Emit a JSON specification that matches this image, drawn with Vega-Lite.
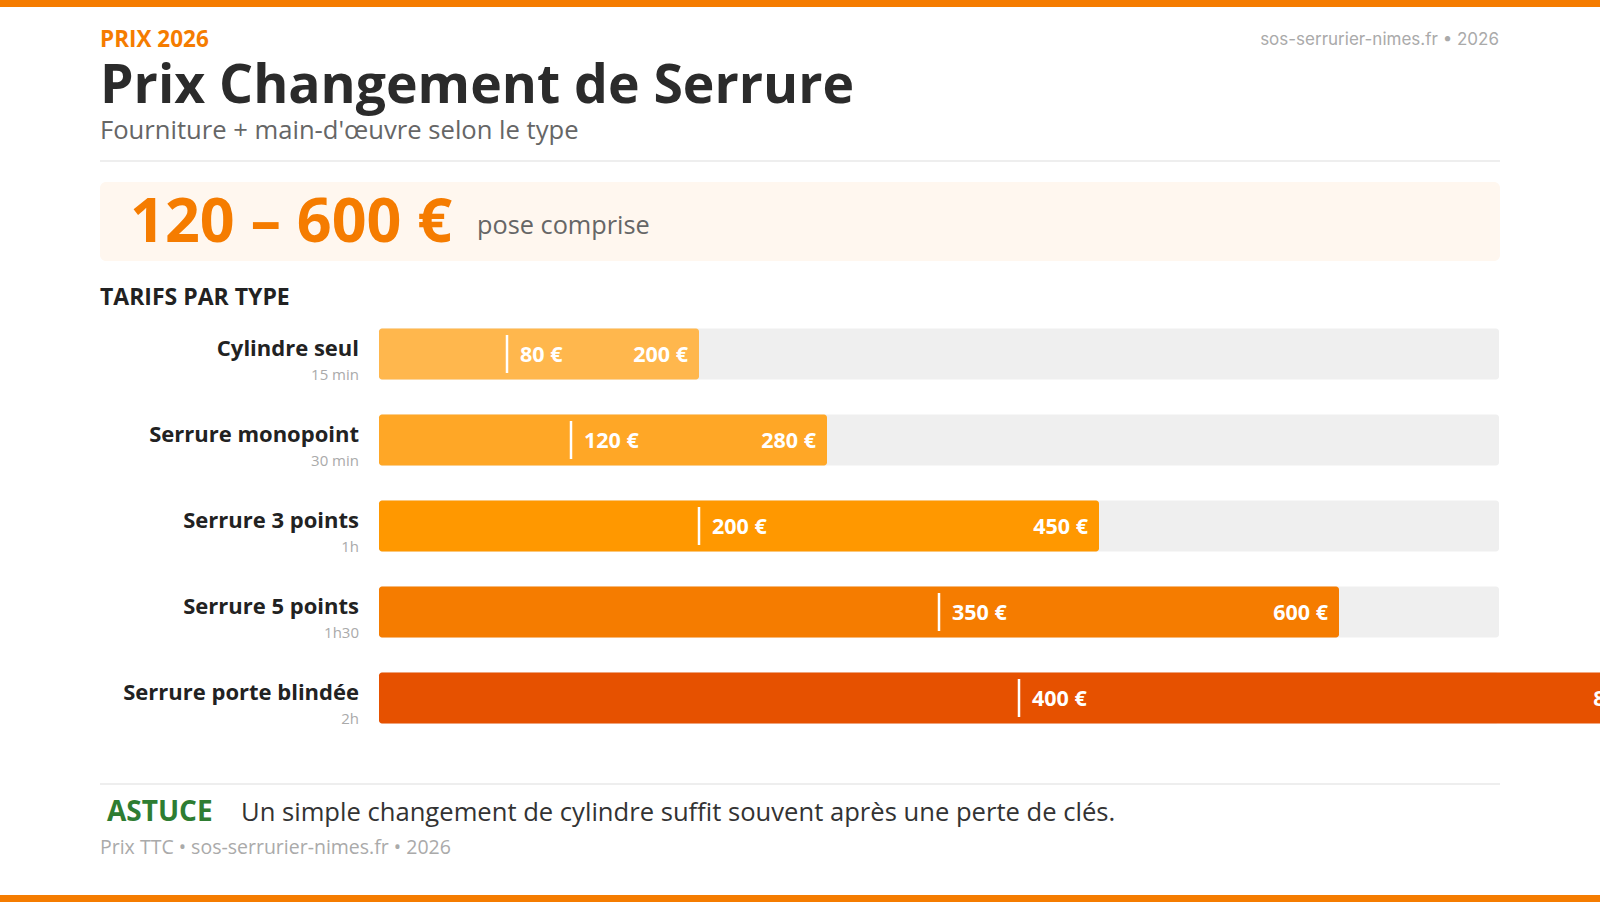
{
  "$schema": "https://vega.github.io/schema/vega-lite/v6.json",
  "width": 1600,
  "height": 902,
  "autosize": {"type": "none"},
  "padding": 0,
  "background": "#ffffff",
  "config": {
    "view": {"stroke": null},
    "font": "Open Sans",
    "locale": {"number": {"decimal": ",", "thousands": " ", "grouping": [3], "currency": ["", " €"]}}
  },
  "datasets": {
    "tarifs": [
      {"type": "Cylindre seul", "duree": "15 min", "bas": 80, "haut": 200, "rang": 1},
      {"type": "Serrure monopoint", "duree": "30 min", "bas": 120, "haut": 280, "rang": 2},
      {"type": "Serrure 3 points", "duree": "1h", "bas": 200, "haut": 450, "rang": 3},
      {"type": "Serrure 5 points", "duree": "1h30", "bas": 350, "haut": 600, "rang": 4},
      {"type": "Serrure porte blindée", "duree": "2h", "bas": 400, "haut": 800, "rang": 5}
    ]
  },
  "layer": [
    {
      "data": {"values": [{"zone": "bandeau haut"}]},
      "mark": {"type": "rect", "color": "#F57C00"},
      "encoding": {
        "x": {"datum": -236.875, "type": "quantitative", "scale": {"domain": [-236.875, 763.125], "nice": false, "zero": false, "padding": 0}, "axis": null},
        "x2": {"datum": 763.125},
        "y": {"datum": -3.1163, "type": "quantitative", "scale": {"domain": [-3.11628, 7.37209], "nice": false, "zero": false, "reverse": true, "padding": 0}, "axis": null},
        "y2": {"datum": -3.0349}
      }
    },
    {
      "data": {"values": [{"zone": "bandeau bas"}]},
      "mark": {"type": "rect", "color": "#F57C00"},
      "encoding": {
        "x": {"datum": -236.875, "type": "quantitative", "axis": null},
        "x2": {"datum": 763.125},
        "y": {"datum": 7.2907, "type": "quantitative", "axis": null},
        "y2": {"datum": 7.3721}
      }
    },
    {
      "data": {"values": [{"ligne": "sous-titre"}]},
      "mark": {"type": "rule", "color": "#EEEEEE", "strokeWidth": 2},
      "encoding": {
        "x": {"datum": -174.375, "type": "quantitative", "axis": null},
        "x2": {"datum": 700.625},
        "y": {"datum": -1.2442, "type": "quantitative", "axis": null}
      }
    },
    {
      "data": {"values": [{"ligne": "astuce"}]},
      "mark": {"type": "rule", "color": "#EEEEEE", "strokeWidth": 2},
      "encoding": {
        "x": {"datum": -174.375, "type": "quantitative", "axis": null},
        "x2": {"datum": 700.625},
        "y": {"datum": 6.0, "type": "quantitative", "axis": null}
      }
    },
    {
      "data": {"values": [{"zone": "fourchette"}]},
      "mark": {"type": "rect", "color": "#FFF7EF", "cornerRadius": 6},
      "encoding": {
        "x": {"datum": -174.375, "type": "quantitative", "axis": null},
        "x2": {"datum": 700.625},
        "y": {"datum": -1.0, "type": "quantitative", "axis": null},
        "y2": {"datum": -0.0814}
      }
    },
    {
      "data": {"name": "tarifs"},
      "mark": {"type": "bar", "orient": "horizontal", "color": "#EFEFEF", "size": 51, "cornerRadius": 3},
      "encoding": {
        "x": {"datum": 700, "type": "quantitative", "axis": null},
        "x2": {"datum": 0},
        "y": {"field": "rang", "type": "quantitative", "axis": null}
      }
    },
    {
      "data": {"name": "tarifs"},
      "mark": {"type": "bar", "orient": "horizontal", "size": 51, "cornerRadius": 3},
      "encoding": {
        "x": {"field": "haut", "type": "quantitative", "axis": null},
        "x2": {"datum": 0},
        "y": {"field": "rang", "type": "quantitative", "axis": null},
        "color": {
          "field": "type", "type": "nominal", "legend": null,
          "scale": {
            "domain": ["Cylindre seul", "Serrure monopoint", "Serrure 3 points", "Serrure 5 points", "Serrure porte blindée"],
            "range": ["#FFB74D", "#FFA726", "#FF9800", "#F57C00", "#E65100"]
          }
        }
      }
    },
    {
      "data": {"name": "tarifs"},
      "mark": {"type": "tick", "orient": "vertical", "color": "#FFFFFF", "size": 38, "thickness": 2.5, "opacity": 1},
      "encoding": {
        "x": {"field": "bas", "type": "quantitative", "axis": null},
        "y": {"field": "rang", "type": "quantitative", "axis": null}
      }
    },
    {
      "data": {"name": "tarifs"},
      "mark": {"type": "text", "align": "left", "baseline": "middle", "dx": 13, "dy": 1.5, "color": "#FFFFFF", "fontSize": 21.5, "fontWeight": "bold"},
      "encoding": {
        "x": {"field": "bas", "type": "quantitative", "axis": null},
        "y": {"field": "rang", "type": "quantitative", "axis": null},
        "text": {"field": "bas", "type": "quantitative", "format": "$d"}
      }
    },
    {
      "data": {"name": "tarifs"},
      "mark": {"type": "text", "align": "right", "baseline": "middle", "dx": -11, "dy": 1.5, "color": "#FFFFFF", "fontSize": 21.5, "fontWeight": "bold"},
      "encoding": {
        "x": {"field": "haut", "type": "quantitative", "axis": null},
        "y": {"field": "rang", "type": "quantitative", "axis": null},
        "text": {"field": "haut", "type": "quantitative", "format": "$d"}
      }
    },
    {
      "data": {"name": "tarifs"},
      "mark": {"type": "text", "align": "right", "baseline": "middle", "dy": -5, "color": "#222222", "fontSize": 22, "fontWeight": "bold"},
      "encoding": {
        "x": {"datum": -12.5, "type": "quantitative", "axis": null},
        "y": {"field": "rang", "type": "quantitative", "axis": null},
        "text": {"field": "type", "type": "nominal"}
      }
    },
    {
      "data": {"name": "tarifs"},
      "mark": {"type": "text", "align": "right", "baseline": "middle", "dy": 21, "color": "#AAAAAA", "fontSize": 15},
      "encoding": {
        "x": {"datum": -12.5, "type": "quantitative", "axis": null},
        "y": {"field": "rang", "type": "quantitative", "axis": null},
        "text": {"field": "duree", "type": "nominal"}
      }
    },
    {
      "data": {"values": [{"texte": "PRIX 2026"}]},
      "mark": {"type": "text", "align": "left", "baseline": "middle", "color": "#F57C00", "fontSize": 22.5, "fontWeight": "bold"},
      "encoding": {
        "x": {"datum": -174.375, "type": "quantitative", "axis": null},
        "y": {"datum": -2.651, "type": "quantitative", "axis": null},
        "text": {"field": "texte", "type": "nominal"}
      }
    },
    {
      "data": {"values": [{"texte": "Prix Changement de Serrure"}]},
      "mark": {"type": "text", "align": "left", "baseline": "middle", "color": "#2B2B2B", "fontSize": 53.5, "fontWeight": "bold"},
      "encoding": {
        "x": {"datum": -174.375, "type": "quantitative", "axis": null},
        "y": {"datum": -2.104, "type": "quantitative", "axis": null},
        "text": {"field": "texte", "type": "nominal"}
      }
    },
    {
      "data": {"values": [{"texte": "Fourniture + main-d'œuvre selon le type"}]},
      "mark": {"type": "text", "align": "left", "baseline": "middle", "color": "#666666", "fontSize": 25.6},
      "encoding": {
        "x": {"datum": -174.375, "type": "quantitative", "axis": null},
        "y": {"datum": -1.593, "type": "quantitative", "axis": null},
        "text": {"field": "texte", "type": "nominal"}
      }
    },
    {
      "data": {"values": [{"texte": "sos-serrurier-nimes.fr • 2026"}]},
      "mark": {"type": "text", "align": "right", "baseline": "middle", "color": "#AAAAAA", "fontSize": 17, "font": "Inter"},
      "encoding": {
        "x": {"datum": 700, "type": "quantitative", "axis": null},
        "y": {"datum": -2.651, "type": "quantitative", "axis": null},
        "text": {"field": "texte", "type": "nominal"}
      }
    },
    {
      "data": {"values": [{"texte": "120 – 600 €"}]},
      "mark": {"type": "text", "align": "left", "baseline": "middle", "color": "#F57C00", "fontSize": 61, "fontWeight": "bold"},
      "encoding": {
        "x": {"datum": -155.625, "type": "quantitative", "axis": null},
        "y": {"datum": -0.511, "type": "quantitative", "axis": null},
        "text": {"field": "texte", "type": "nominal"}
      }
    },
    {
      "data": {"values": [{"texte": "pose comprise"}]},
      "mark": {"type": "text", "align": "left", "baseline": "middle", "color": "#666666", "fontSize": 25.3},
      "encoding": {
        "x": {"datum": 61.25, "type": "quantitative", "axis": null},
        "y": {"datum": -0.4884, "type": "quantitative", "axis": null},
        "text": {"field": "texte", "type": "nominal"}
      }
    },
    {
      "data": {"values": [{"texte": "TARIFS PAR TYPE"}]},
      "mark": {"type": "text", "align": "left", "baseline": "middle", "color": "#222222", "fontSize": 23, "fontWeight": "bold"},
      "encoding": {
        "x": {"datum": -174.375, "type": "quantitative", "axis": null},
        "y": {"datum": 0.349, "type": "quantitative", "axis": null},
        "text": {"field": "texte", "type": "nominal"}
      }
    },
    {
      "data": {"values": [{"texte": "ASTUCE"}]},
      "mark": {"type": "text", "align": "left", "baseline": "middle", "color": "#2E7D32", "fontSize": 28, "fontWeight": "bold"},
      "encoding": {
        "x": {"datum": -170, "type": "quantitative", "axis": null},
        "y": {"datum": 6.337, "type": "quantitative", "axis": null},
        "text": {"field": "texte", "type": "nominal"}
      }
    },
    {
      "data": {"values": [{"texte": "Un simple changement de cylindre suffit souvent après une perte de clés."}]},
      "mark": {"type": "text", "align": "left", "baseline": "middle", "color": "#333333", "fontSize": 25.6},
      "encoding": {
        "x": {"datum": -86.25, "type": "quantitative", "axis": null},
        "y": {"datum": 6.337, "type": "quantitative", "axis": null},
        "text": {"field": "texte", "type": "nominal"}
      }
    },
    {
      "data": {"values": [{"texte": "Prix TTC • sos-serrurier-nimes.fr • 2026"}]},
      "mark": {"type": "text", "align": "left", "baseline": "middle", "color": "#AAAAAA", "fontSize": 19.5},
      "encoding": {
        "x": {"datum": -174.375, "type": "quantitative", "axis": null},
        "y": {"datum": 6.744, "type": "quantitative", "axis": null},
        "text": {"field": "texte", "type": "nominal"}
      }
    }
  ]
}
